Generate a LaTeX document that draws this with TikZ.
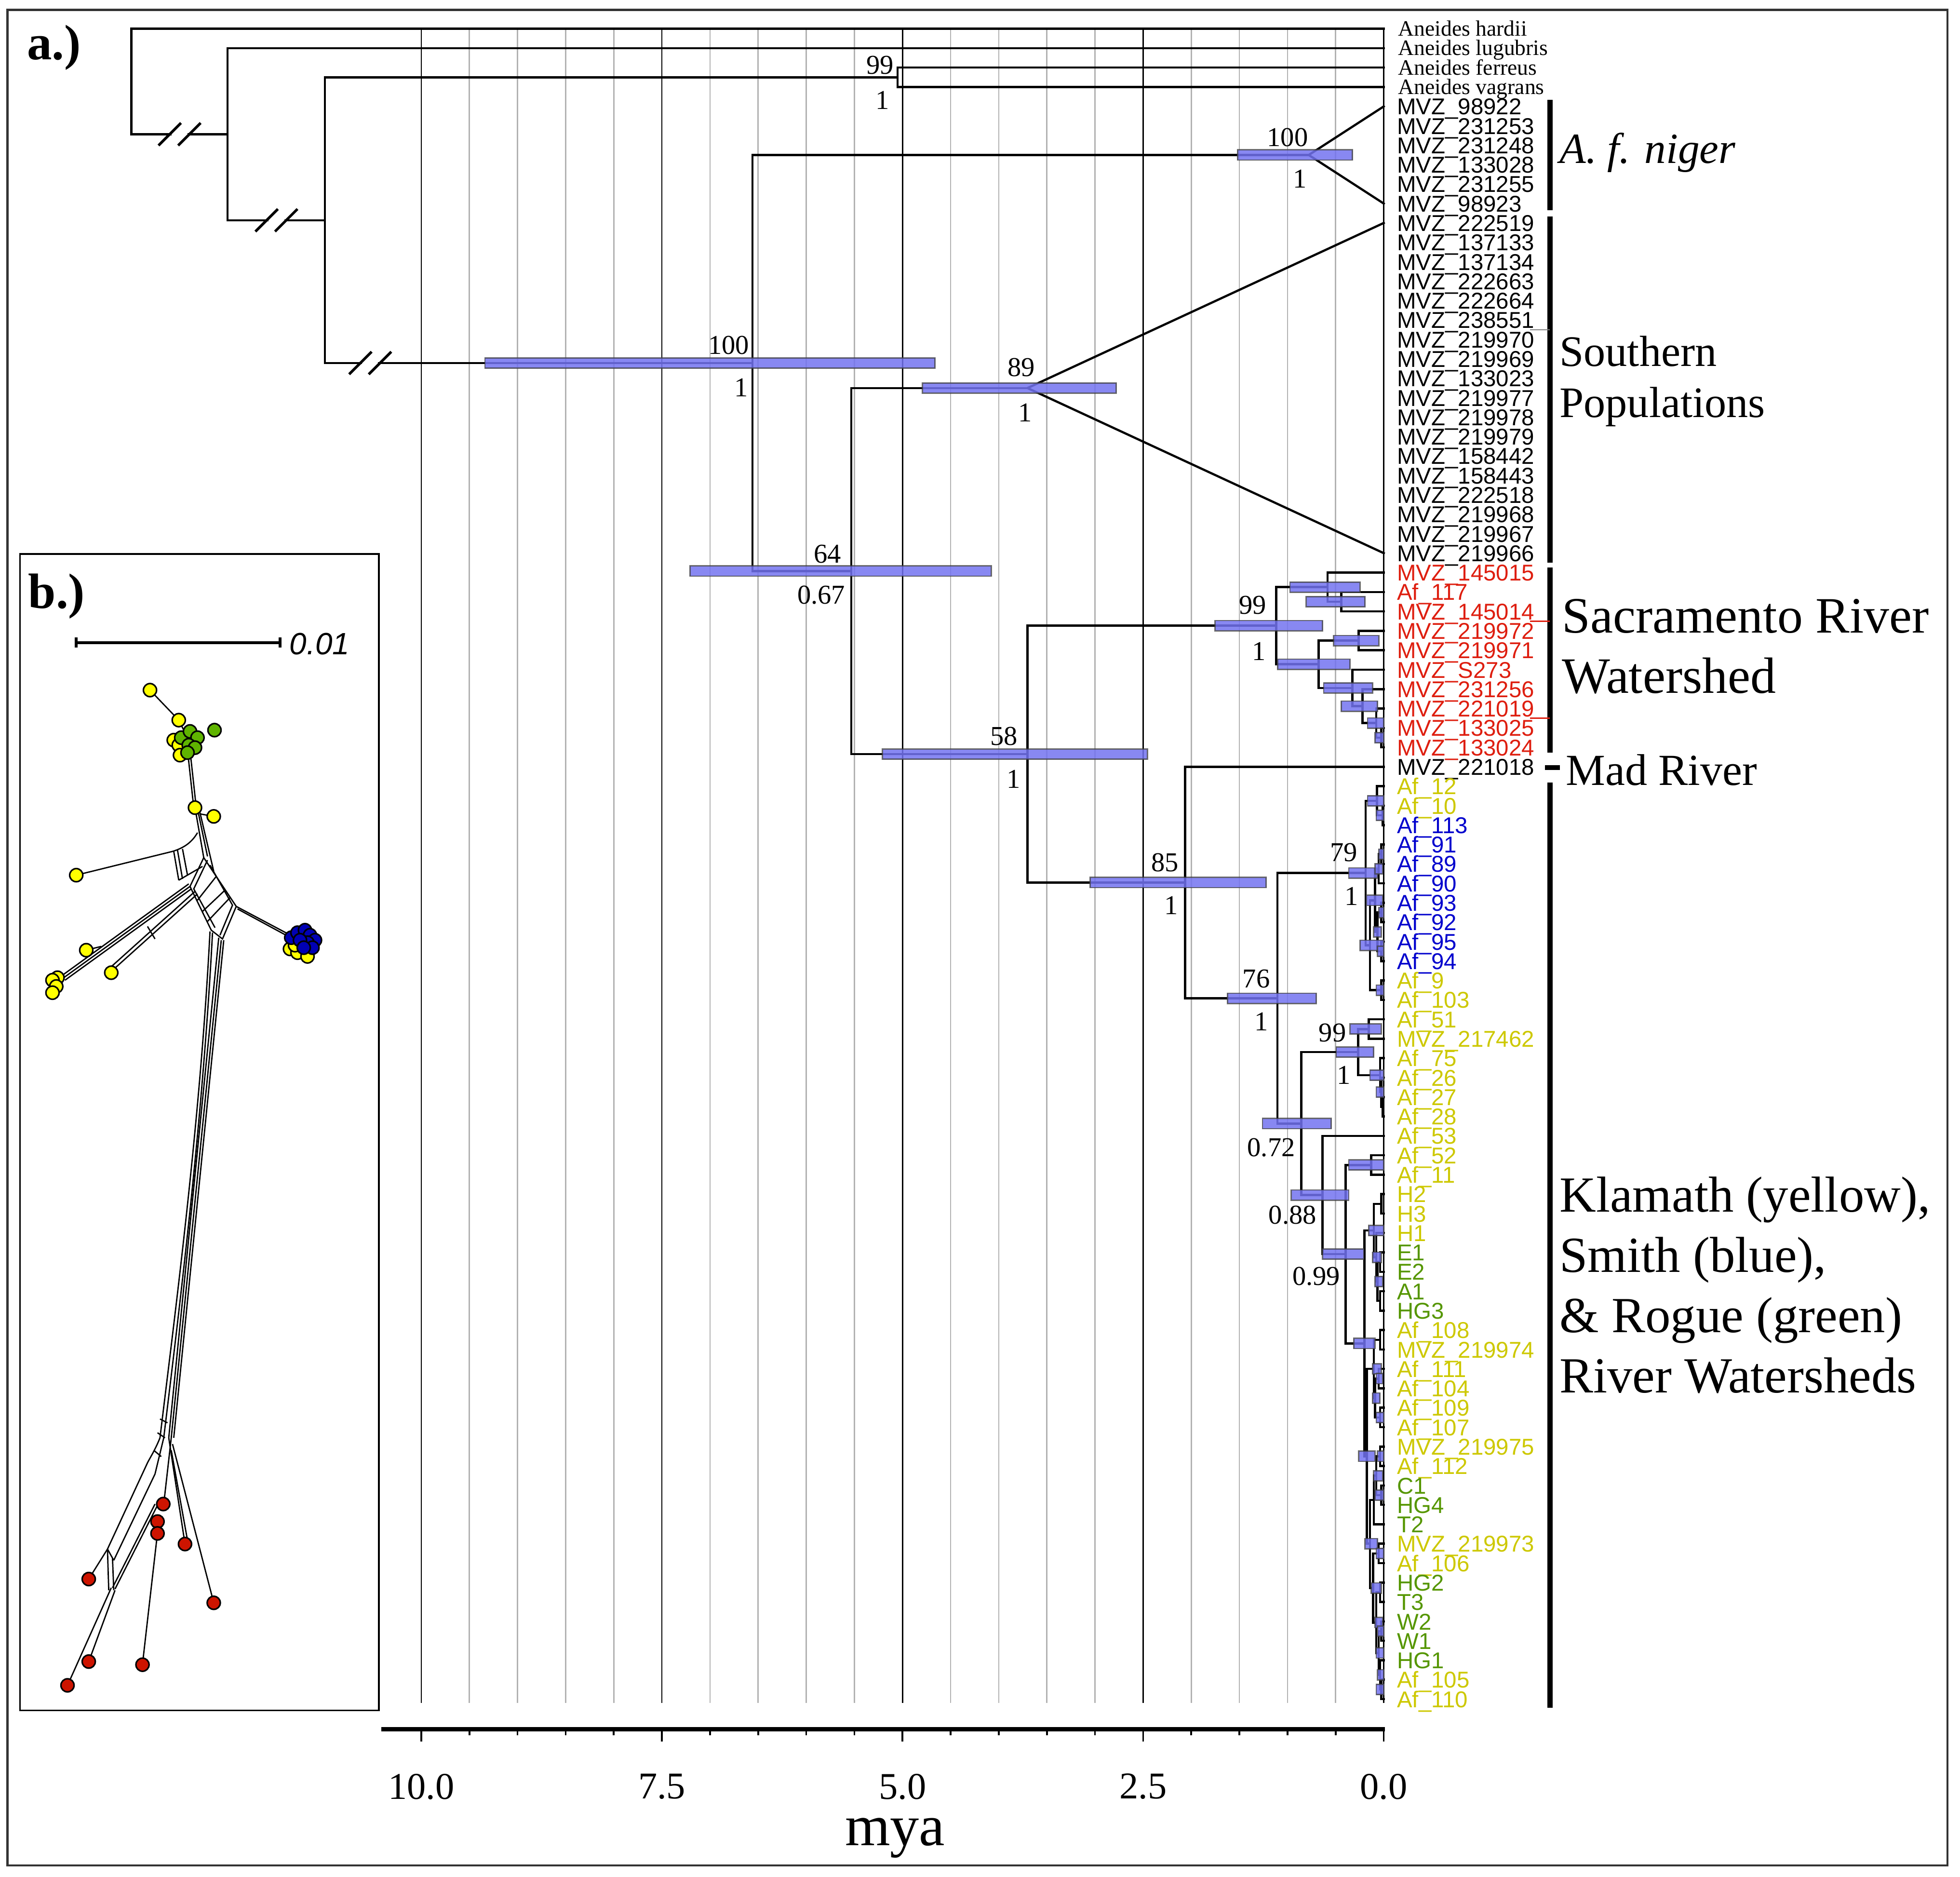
\documentclass[tikz,border=0pt]{standalone}
\usepackage{fontspec}
\setmainfont{Liberation Serif}
\newfontfamily\tipfont{Liberation Sans}

\definecolor{sacred}{RGB}{222,30,15}
\definecolor{klayel}{RGB}{205,200,0}
\definecolor{smblue}{RGB}{0,0,205}
\definecolor{rogreen}{RGB}{85,150,0}
\definecolor{hpdblue}{RGB}{115,115,240}
\definecolor{dotyel}{RGB}{255,255,0}
\definecolor{dotgrn}{RGB}{95,180,0}
\definecolor{dotblu}{RGB}{0,0,180}
\definecolor{dotred}{RGB}{205,20,0}

\tikzset{
  branch/.style={line width=0.5pt, line cap=rect},
  hpd/.style={fill=hpdblue, fill opacity=0.85, draw=black!75, draw opacity=0.75, line width=0.3pt},
  minorgrid/.style={gray!60, line width=0.3pt},
  majorgrid/.style={black, line width=0.3pt},
  tiplab/.style={font=\tipfont\fontsize{5.2}{6}\selectfont, anchor=west, inner sep=0pt, text height=3.75pt, text depth=0pt},
  splab/.style={font=\fontsize{5}{6}\selectfont, anchor=west, inner sep=0pt, text height=3.3pt, text depth=0pt},
  support/.style={font=\fontsize{6.2}{7}\selectfont, inner sep=0pt},
  grouplab/.style={anchor=west, align=left, inner sep=0pt},
  groupbar/.style={line width=1.15pt},
  netline/.style={line width=0.3pt},
  netdot/.style={circle, draw=black, line width=0.35pt, inner sep=0pt, minimum size=0.105cm},
}

\begin{document}
\begin{tikzpicture}[x=0.01cm, y=-0.01cm, declare function={ry(\rw)=23+15.535*\rw;}]
\useasboundingbox (0,0) rectangle (1568,1501);
\draw[line width=0.5pt, black!80] (6,8) rectangle (1558,1492);
\node[font=\bfseries\fontsize{11.3}{12}\selectfont, anchor=west, inner sep=0pt] (pa) at (21,38) {a.)};

% time grid
\foreach \tm in {0.5,1,...,9.5}
  \draw[minorgrid] ({1107-77*\tm},23) -- ({1107-77*\tm},1362);
\foreach \tm in {0,2.5,5,7.5,10}
  \draw[majorgrid] ({1107-77*\tm},23) -- ({1107-77*\tm},1362);

% tips
\foreach \lab [count=\i from 0] in {Aneides hardii, Aneides lugubris, Aneides ferreus, Aneides vagrans}{
  \coordinate (t\i) at (1107,{ry(\i)});
  \node[splab] (l\i) at (1118,{ry(\i)}) {\lab};
}
\foreach \lab/\col [count=\i from 4] in {MVZ\_98922/black, MVZ\_231253/black, MVZ\_231248/black,
  MVZ\_133028/black, MVZ\_231255/black, MVZ\_98923/black, MVZ\_222519/black, MVZ\_137133/black,
  MVZ\_137134/black, MVZ\_222663/black, MVZ\_222664/black, MVZ\_238551/black, MVZ\_219970/black,
  MVZ\_219969/black, MVZ\_133023/black, MVZ\_219977/black, MVZ\_219978/black, MVZ\_219979/black,
  MVZ\_158442/black, MVZ\_158443/black, MVZ\_222518/black, MVZ\_219968/black, MVZ\_219967/black,
  MVZ\_219966/black, MVZ\_145015/sacred, Af\_117/sacred, MVZ\_145014/sacred, MVZ\_219972/sacred,
  MVZ\_219971/sacred, MVZ\_S273/sacred, MVZ\_231256/sacred, MVZ\_221019/sacred, MVZ\_133025/sacred,
  MVZ\_133024/sacred, MVZ\_221018/black, Af\_12/klayel, Af\_10/klayel, Af\_113/smblue, Af\_91/smblue,
  Af\_89/smblue, Af\_90/smblue, Af\_93/smblue, Af\_92/smblue, Af\_95/smblue, Af\_94/smblue,
  Af\_9/klayel, Af\_103/klayel, Af\_51/klayel, MVZ\_217462/klayel, Af\_75/klayel, Af\_26/klayel,
  Af\_27/klayel, Af\_28/klayel, Af\_53/klayel, Af\_52/klayel, Af\_11/klayel, H2/klayel, H3/klayel,
  H1/klayel, E1/rogreen, E2/rogreen, A1/rogreen, HG3/rogreen, Af\_108/klayel, MVZ\_219974/klayel,
  Af\_111/klayel, Af\_104/klayel, Af\_109/klayel, Af\_107/klayel, MVZ\_219975/klayel, Af\_112/klayel,
  C1/rogreen, HG4/rogreen, T2/rogreen, MVZ\_219973/klayel, Af\_106/klayel, HG2/rogreen, T3/rogreen,
  W2/rogreen, W1/rogreen, HG1/rogreen, Af\_105/klayel, Af\_110/klayel}{
  \coordinate (t\i) at (1107,{ry(\i)});
  \node[tiplab, text=\col] (l\i) at (1117,{ry(\i)}) {\lab};
}

% internal nodes (x, row)
\foreach \n/\x/\rw in {R0/105/2.715, n1/182/5.43, n2/260/9.86, nFV/718/2.5, nA/602/17.21,
  nNig/1047/6.5, n64/681/27.92, n89/822/18.5, n58/822/37.35, nSac/1021/30.73, n85/948/43.96,
  n76/1022/49.92,
  s1/1062/28.75, s2/1073/29.5, s3/1055/32.72, s4/1087/31.5, s5/1082/33.94, s6/1090/34.875,
  s7/1101/35.75, s8/1105/36.5,
  n79/1092.5/43.47, a1/1101.5/39.75, a2/1106/40.5, b/1096/47.19, c/1100/44.875, c2/1103/43.25,
  c1/1105/42.5, c5/1102/46.5, c3/1105/45.5, c4/1105/47.5, d/1105/49.5,
  n072/1041/56.37, n99b/1086.5/52.69, p1/1095/51.5, p2/1104/53.875, p3/1105/54.75, p4/1106/55.5,
  n088/1058/60.05, n099/1076.5/63.09, q1/1097/58.5, K/1091.5/67.69,
  k1/1099/61.875, k1a/1105/60.5, k1f/1101/63.25, k1e/1102/64.5, k1c/1104/63.5, k1d/1104/65.5,
  k2/1093.5/73.5, k2e/1099/69, k2a/1104/67.5, k2d/1100/70.5, k2b/1103/69.5, k2c/1104/71.5,
  k2r/1096/78.0, k2i/1099/75.75, k2h/1101/74.5, k2f/1104/73.5, k2g/1105/75.5, k2q/1098.5/80.28,
  k2j/1103/78.5, k2p/1101/82.06, k2k/1104/80.5, k2o/1103/83.625, k2l/1105/82.5, k2m/1104/84.75,
  k2n/1105/85.5}
  \coordinate (\n) at (\x,{ry(\rw)});

% branches
\foreach \pa/\ch in {R0/t0, R0/n1, n1/t1, n1/n2, n2/nFV, n2/nA, nFV/t2, nFV/t3, nA/nNig, nA/n64,
  n64/n89, n64/n58, n58/nSac, n58/n85, nSac/s1, nSac/s3, s1/t28, s1/s2, s2/t29, s2/t30, s3/s4,
  s3/s5, s4/t31, s4/t32, s5/t33, s5/s6, s6/t34, s6/s7, s7/t35, s7/s8, s8/t36, s8/t37, n85/t38,
  n85/n76, n76/n79, n76/n072, n79/a1, n79/b, a1/t39, a1/a2, a2/t40, a2/t41, b/c, b/d, c/c2, c/c5,
  c2/c1, c2/t44, c1/t42, c1/t43, c5/c3, c5/c4, c3/t45, c3/t46, c4/t47, c4/t48, d/t49, d/t50,
  n072/n99b, n072/n088, n99b/p1, n99b/p2, p1/t51, p1/t52, p2/t53, p2/p3, p3/t54, p3/p4, p4/t55,
  p4/t56, n088/t57, n088/n099, n099/q1, n099/K, q1/t58, q1/t59, K/k1, K/k2, k1/k1a, k1/k1f,
  k1a/t60, k1a/t61, k1f/t62, k1f/k1e, k1e/k1c, k1e/k1d, k1c/t63, k1c/t64, k1d/t65, k1d/t66,
  k2/k2e, k2/k2r, k2e/k2a, k2e/k2d, k2a/t67, k2a/t68, k2d/k2b, k2d/k2c, k2b/t69, k2b/t70,
  k2c/t71, k2c/t72, k2r/k2i, k2r/k2q, k2i/k2h, k2i/t77, k2h/k2f, k2h/k2g, k2f/t73, k2f/t74,
  k2g/t75, k2g/t76, k2q/k2j, k2q/k2p, k2j/t78, k2j/t79, k2p/k2k, k2p/k2o, k2k/t80, k2k/t81,
  k2o/k2l, k2o/k2m, k2l/t82, k2l/t83, k2m/t84, k2m/k2n, k2n/t85, k2n/t86}
  \draw[branch] (\pa) |- (\ch);
\draw[branch] (t4) -- (nNig) -- (t9);
\draw[branch] (t10) -- (n89) -- (t27);

% broken stems
\foreach \n/\a in {n1/135.8, n2/213.3, nA/288.3}{
  \fill[white] (\a,0 |- \n) +(1.5,-2) rectangle +(14.2,2);
  \draw[line width=0.6pt] (\a,0 |- \n) +(-9,9) -- +(9,-9);
  \draw[line width=0.6pt] (\a,0 |- \n) +(6.7,9) -- +(24.7,-9);
}

% 95% HPD bars
\foreach \n/\a/\b in {nA/388/748, nNig/990/1082, n64/552/793, n89/738/893, n58/706/918,
  n85/872/1013, n76/982/1053, nSac/972/1058, s1/1032/1088, s2/1045/1092, s3/1022/1080,
  s4/1067/1103, s5/1059/1098, s6/1073/1102, s7/1094/1107, s8/1100/1107, n79/1079/1102,
  a1/1094/1107, a2/1101/1107, b/1088/1107, c/1093/1106, c2/1100/1106, c5/1099/1105, c1/1103/1107,
  c3/1103/1107, c4/1102/1107, d/1101/1107, n072/1010/1065, n99b/1069/1099, p1/1080/1105,
  p2/1096/1107, p3/1101/1107, n088/1033/1079, n099/1058/1091, q1/1079/1107, K/1083/1100,
  k1/1095/1107, k1e/1100/1106, k1f/1098/1105, k2/1087/1100, k2e/1098/1105, k2d/1098/1104,
  k2b/1101/1106, k2c/1101/1107, k2r/1092/1102, k2h/1099/1106, k2f/1102/1107, k2g/1100/1107,
  k2q/1097/1105, k2j/1101/1107, k2p/1100/1106, k2o/1101/1107, k2l/1102/1107, k2m/1102/1107,
  k2n/1101/1107}
  \draw[hpd] (\a,0 |- \n) +(0,-4.1) rectangle +({\b-\a},4.1);

% support values
\node[support] at (704,52) {99};   \node[support] at (706,80) {1};
\node[support] at (1030,110) {100}; \node[support] at (1040,143) {1};
\node[support] at (583,276) {100};  \node[support] at (593,310) {1};
\node[support] at (817,294) {89};   \node[support] at (820,330) {1};
\node[support] at (662,443) {64};   \node[support] at (657,476) {0.67};
\node[support] at (1002,484) {99};  \node[support] at (1007,521) {1};
\node[support] at (803,589) {58};   \node[support] at (811,623) {1};
\node[support] at (932,690) {85};   \node[support] at (937,724) {1};
\node[support] at (1075,682) {79};  \node[support] at (1081,717) {1};
\node[support] at (1005,783) {76};  \node[support] at (1009,817) {1};
\node[support] at (1066,826) {99};  \node[support] at (1075,860) {1};
\node[support] at (1017,918) {0.72};
\node[support] at (1034,972) {0.88};
\node[support] at (1053,1021) {0.99};

% clade bars and names
\draw[groupbar] (1240,80) -- (1240,168);
\draw[groupbar] (1240,173) -- (1240,450);
\draw[groupbar] (1240,454) -- (1240,602);
\draw[groupbar] (1236,614) -- (1248,614);
\draw[groupbar] (1240,626) -- (1240,1366);
\draw[gray, line width=0.3pt] (1224,{ry(15.5)}) -- (1240,{ry(15.5)});
\draw[sacred, line width=0.3pt] (1224,{ry(30.5)}) -- (1240,{ry(30.5)});
\draw[sacred, line width=0.3pt] (1224,{ry(35.5)}) -- (1240,{ry(35.5)});
\node[grouplab, font=\itshape\fontsize{9.8}{11}\selectfont] (gNig) at (1247,122) {A. f. niger};
\node[grouplab, font=\fontsize{9.9}{11.7}\selectfont] (gSou) at (1247,305) {Southern\\Populations};
\node[grouplab, font=\fontsize{11.6}{13.7}\selectfont] (gSac) at (1249,517) {Sacramento River\\Watershed};
\node[grouplab, font=\fontsize{10.1}{12}\selectfont] (gMad) at (1252,616) {Mad River};
\node[grouplab, font=\fontsize{11.5}{13.7}\selectfont] (gKla) at (1247,1028) {Klamath (yellow),\\Smith (blue),\\\& Rogue (green)\\River Watersheds};

% time axis
\draw[line width=1pt] (305,1383) -- (1108,1383);
\foreach \tm in {0,0.5,...,10}
  \draw[line width=0.4pt] ({1107-77*\tm},1384) -- ++(0,4);
\foreach \tm/\lab in {10/10.0, 7.5/7.5, 5/5.0, 2.5/2.5, 0/0.0}{
  \draw[line width=0.4pt] ({1107-77*\tm},1384) -- ++(0,9);
  \node[font=\fontsize{8.6}{9}\selectfont, inner sep=0pt] at ({1107-77*\tm},1429) {\lab};
}
\node[font=\fontsize{13.2}{14}\selectfont, inner sep=0pt] (mya) at (716,1470) {mya};

% inset b: network
\draw[line width=0.4pt] (16,443) rectangle (303,1368);
\node[font=\bfseries\fontsize{11.3}{12}\selectfont, anchor=west, inner sep=0pt] (pb) at (22,477) {b.)};
\draw[line width=0.6pt] (61,514) -- (224,514) (61,510) -- (61,518) (224,510) -- (224,518);
\node[font=\tipfont\itshape\fontsize{7}{8}\selectfont, anchor=west, inner sep=0pt] at (231,515) {0.01};

\begin{scope}[netline]
  \draw (120,552) -- (143,576) -- (151,592);
  \draw (150,600) -- (155,646); \draw (152,600) -- (157,646);
  \draw (156,646) -- (163,686); \draw (158,647) -- (166,685); \draw (160,650) -- (171,697);
  \draw (171,653) -- (160,651);
  \draw (61,700) -- (138,681) .. controls (148,678) and (154,673) .. (158,666);
  \draw (139,681) -- (143,704) (142,680) -- (146,703) (146,679) -- (150,700);
  \draw (143,704) -- (162,693);
  \draw (163,686) -- (152,709) -- (169,744) -- (178,751) -- (189,725) -- cycle;
  \draw (166,688) -- (155,711) -- (172,742);
  \draw (168,692) -- (186,724) -- (176,748);
  \draw (158,720) -- (173,701) (162,729) -- (180,712) (166,737) -- (184,718);
  \draw (152,709) -- (51,782); \draw (153,711) -- (52,784); \draw (151,707) -- (50,780);
  \draw (158,715) -- (89,777); \draw (156,713) -- (87,775);
  \draw (118,741) -- (124,751);
  \draw (69,760) -- (81,757);
  \draw (189,725) -- (238,751); \draw (190,727) -- (238,753);
  % trunk
  \draw (168,745) .. controls (160,900) and (140,1050) .. (128,1150);
  \draw (170,746) .. controls (162,900) and (143,1050) .. (131,1150);
  \draw (175,750) -- (135,1150); \draw (177,752) -- (137,1150); \draw (179,752) -- (139,1150);
  \draw (128,1135) -- (134,1138) (126,1146) -- (132,1150) (123,1160) -- (129,1165);
  % lower part
  \draw (128,1150) .. controls (124,1160) and (120,1166) .. (118,1170) -- (86,1239) -- (71,1263);
  \draw (131,1150) -- (124,1179) -- (91,1248);
  \draw (86,1239) -- (91,1248) (86,1240) -- (87,1272) (90,1246) -- (91,1272);
  \draw (124,1203) -- (90,1270); \draw (126,1204) -- (92,1271);
  \draw (89,1270) -- (54,1348); \draw (92,1272) -- (71,1329);
  \draw (137,1150) -- (131,1203);
  \draw (126,1226) -- (114,1331);
  \draw (135,1150) -- (148,1235); \draw (138,1155) -- (171,1282); \draw (137,1160) -- (150,1232);
\end{scope}
% network dots
\foreach \x/\y [count=\i] in {120/552, 143/576, 139/592, 143/596, 144/604, 156/646, 171/653,
  61/700, 69/760, 89/778, 46/782, 42/784, 45/789, 42/794, 232/759, 238/762, 246/765, 236/756}
  \node[netdot, fill=dotyel] (y\i) at (\x,\y) {};
\foreach \x/\y [count=\i] in {145/590, 152/585, 158/590, 151/596, 156/598, 150/602, 171.6/584}
  \node[netdot, fill=dotgrn] (g\i) at (\x,\y) {};
\foreach \x/\y [count=\i] in {233/750, 238/746, 244/744, 248/748, 252/752, 246/754, 240/752,
  250/758, 243/758}
  \node[netdot, fill=dotblu] (u\i) at (\x,\y) {};
\foreach \x/\y [count=\i] in {130.6/1203, 126/1217, 126/1226.5, 148/1235, 71/1263, 171/1282,
  71/1329, 114/1331.5, 54/1348}
  \node[netdot, fill=dotred] (r\i) at (\x,\y) {};
\end{tikzpicture}
\end{document}
